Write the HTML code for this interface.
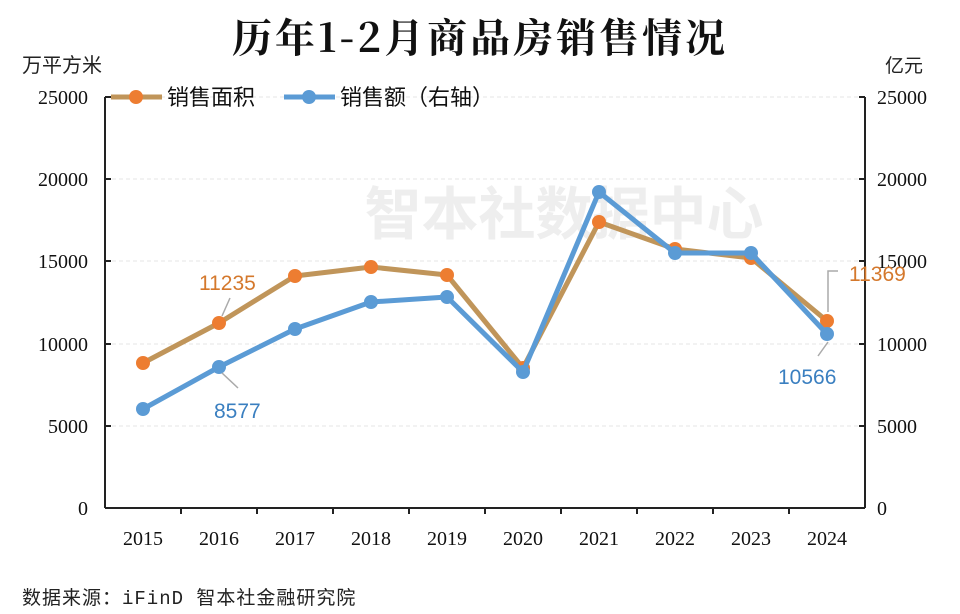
<!DOCTYPE html>
<html><head><meta charset="utf-8"><style>
body{margin:0;background:#fff;width:960px;height:614px;overflow:hidden}
svg{display:block}
.s{font-family:"Liberation Sans","Noto Sans CJK SC",sans-serif}
.r{font-family:"Liberation Serif","Noto Serif CJK SC",serif}
</style></head><body>
<svg width="960" height="614" viewBox="0 0 960 614">
<text x="480" y="52" text-anchor="middle" font-size="40" font-weight="bold" letter-spacing="3" fill="#111" style="font-family:'Noto Serif CJK SC',serif">历年1-2月商品房销售情况</text>
<text x="22" y="72" class="s" font-size="20" fill="#222">万平方米</text>
<text x="885" y="72" class="s" font-size="19" fill="#222">亿元</text>
<text x="564" y="234" text-anchor="middle" class="s" font-size="57" font-weight="bold" fill="#eeeeee">智本社数据中心</text>
<g stroke="#e4e4e4" stroke-dasharray="4,3" stroke-width="1">
<line x1="105" x2="865" y1="97" y2="97"/><line x1="105" x2="865" y1="179" y2="179"/><line x1="105" x2="865" y1="261" y2="261"/><line x1="105" x2="865" y1="344" y2="344"/><line x1="105" x2="865" y1="426" y2="426"/>
</g>
<g stroke="#222" stroke-width="2" fill="none">
<line x1="105" y1="97" x2="105" y2="508"/><line x1="865" y1="97" x2="865" y2="508"/><line x1="105" y1="508" x2="865" y2="508"/>
<path d="M105 97h6M105 179h6M105 261h6M105 344h6M105 426h6M105 508h6M865 97h-6M865 179h-6M865 261h-6M865 344h-6M865 426h-6"/>
<path d="M181 508v6M257 508v6M333 508v6M409 508v6M485 508v6M561 508v6M637 508v6M713 508v6M789 508v6"/>
</g>
<g class="r" font-size="20" fill="#111">
<g text-anchor="end"><text x="88" y="104">25000</text><text x="88" y="186">20000</text><text x="88" y="268">15000</text><text x="88" y="351">10000</text><text x="88" y="433">5000</text><text x="88" y="515">0</text></g>
<g text-anchor="start"><text x="877" y="104">25000</text><text x="877" y="186">20000</text><text x="877" y="268">15000</text><text x="877" y="351">10000</text><text x="877" y="433">5000</text><text x="877" y="515">0</text></g>
<g text-anchor="middle"><text x="143" y="545">2015</text><text x="219" y="545">2016</text><text x="295" y="545">2017</text><text x="371" y="545">2018</text><text x="447" y="545">2019</text><text x="523" y="545">2020</text><text x="599" y="545">2021</text><text x="675" y="545">2022</text><text x="751" y="545">2023</text><text x="827" y="545">2024</text></g>
</g>
<polyline fill="none" stroke="#c0955a" stroke-width="5" stroke-linejoin="round" points="143,363 219,323 295,276 371,267 447,275 523,368 599,222 675,249 751,258 827,321"/>
<g fill="#ed7d31"><circle cx="143" cy="363" r="7"/><circle cx="219" cy="323" r="7"/><circle cx="295" cy="276" r="7"/><circle cx="371" cy="267" r="7"/><circle cx="447" cy="275" r="7"/><circle cx="523" cy="368" r="7"/><circle cx="599" cy="222" r="7"/><circle cx="675" cy="249" r="7"/><circle cx="751" cy="258" r="7"/><circle cx="827" cy="321" r="7"/></g>
<polyline fill="none" stroke="#5b9bd5" stroke-width="5" stroke-linejoin="round" points="143,409 219,367 295,329 371,302 447,297 523,372 599,192 675,253 751,253 827,334"/>
<g fill="#5b9bd5"><circle cx="143" cy="409" r="7"/><circle cx="219" cy="367" r="7"/><circle cx="295" cy="329" r="7"/><circle cx="371" cy="302" r="7"/><circle cx="447" cy="297" r="7"/><circle cx="523" cy="372" r="7"/><circle cx="599" cy="192" r="7"/><circle cx="675" cy="253" r="7"/><circle cx="751" cy="253" r="7"/><circle cx="827" cy="334" r="7"/></g>
<g stroke="#aaa" stroke-width="1.5" fill="none">
<path d="M222 316L230 298"/><path d="M222 373L238 388"/><path d="M828 312V271h10"/><path d="M828 342L818 356"/>
</g>
<g class="s" font-size="21">
<text x="199" y="290" fill="#d4782c">11235</text>
<text x="214" y="418" fill="#3a7fc0">8577</text>
<text x="849" y="281" fill="#d4782c">11369</text>
<text x="778" y="384" fill="#3a7fc0">10566</text>
</g>
<line x1="111" y1="97" x2="162" y2="97" stroke="#c0955a" stroke-width="5"/><circle cx="136" cy="97" r="7" fill="#ed7d31"/>
<text x="167" y="105" class="s" font-size="22" fill="#111">销售面积</text>
<line x1="284" y1="97" x2="335" y2="97" stroke="#5b9bd5" stroke-width="5"/><circle cx="309" cy="97" r="7" fill="#5b9bd5"/>
<text x="340" y="105" class="s" font-size="22" fill="#111">销售额（右轴）</text>
<text x="22" y="604" font-size="19" letter-spacing="1" fill="#222" style="font-family:'Liberation Mono','Noto Sans CJK SC',monospace">数据来源：iFinD 智本社金融研究院</text>
</svg>
</body></html>
